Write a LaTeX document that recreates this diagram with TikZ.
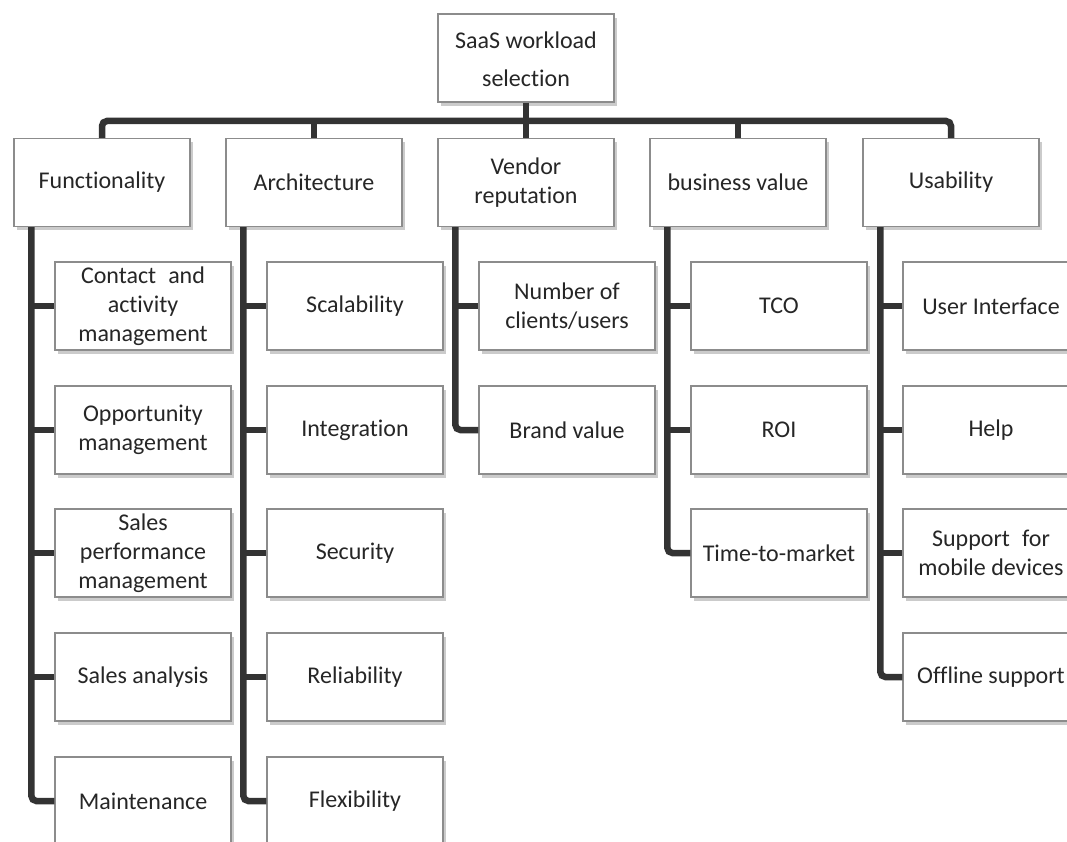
\documentclass[tikz,border=0pt]{standalone}
\usepackage{fontspec}
\setmainfont[Ligatures=NoCommon]{Carlito}
\usetikzlibrary{shadows}
\begin{document}
\begin{tikzpicture}[x=1pt,y=-1pt,
  box/.style={draw=black!45, line width=1.2pt, fill=white,
    minimum width=176pt, minimum height=88pt, inner sep=0pt, align=center,
    text=black!85, font=\fontsize{24}{29}\selectfont,
    drop shadow={shadow xshift=3pt, shadow yshift=-4pt, fill=black!45, opacity=0.45}},
  conn/.style={draw=black!80, line width=6.5pt, rounded corners=5pt},
  tick/.style={draw=black!80, line width=6.5pt}]
\clip (0,0) rectangle (1067,842);
\fill[white] (0,0) rectangle (1067,842);
% root and level 1
\node[box] (R) at (526,58) {\rule{0pt}{20pt}SaaS workload\\[9pt]selection};
\node[box] (F) at (102,182.5) {Functionality};
\node[box] (A) at (314,182.5) {Architecture};
\node[box] (V) at (526,182.5) {Vendor\\reputation};
\node[box] (B) at (738,182.5) {business value};
\node[box] (U) at (951,182.5) {Usability};
% Functionality children
\node[box] (F1) at (143,306) {Contact\enspace and\\activity\\management};
\node[box] (F2) at (143,430) {Opportunity\\management};
\node[box] (F3) at (143,553) {Sales\\performance\\management};
\node[box] (F4) at (143,677) {Sales analysis};
\node[box] (F5) at (143,801) {Maintenance};
% Architecture children
\node[box] (A1) at (355,306) {Scalability};
\node[box] (A2) at (355,430) {Integration};
\node[box] (A3) at (355,553) {Security};
\node[box] (A4) at (355,677) {Reliability};
\node[box] (A5) at (355,801) {Flexibility};
% Vendor children
\node[box] (V1) at (567,306) {Number of\\clients/users};
\node[box] (V2) at (567,430) {Brand value};
% business value children
\node[box] (B1) at (779,306) {TCO};
\node[box] (B2) at (779,430) {ROI};
\node[box] (B3) at (779,553) {Time-to-market};
% Usability children
\node[box] (U1) at (991,306) {User Interface};
\node[box] (U2) at (991,430) {Help};
\node[box] (U3) at (991,553) {Support\enspace for\\mobile devices};
\node[box] (U4) at (991,677) {Offline support};
% bus
\coordinate (bus) at (526,121);
\draw[conn] (F.north) |- (bus) -| (U.north);
\draw[tick] (R.south) -- (R.south |- bus);
\draw[tick] (A.north) -- (A.north |- bus);
\draw[tick] (V.north) -- (V.north |- bus);
\draw[tick] (B.north) -- (B.north |- bus);
% spines
\coordinate (sF) at ([xshift=18pt]F.south west);
\coordinate (sA) at ([xshift=18pt]A.south west);
\coordinate (sV) at ([xshift=18pt]V.south west);
\coordinate (sB) at ([xshift=18pt]B.south west);
\coordinate (sU) at ([xshift=18pt]U.south west);
\draw[conn] (sF) |- (F5.west);
\draw[conn] (sA) |- (A5.west);
\draw[conn] (sV) |- (V2.west);
\draw[conn] (sB) |- (B3.west);
\draw[conn] (sU) |- (U4.west);
\foreach \c in {F1,F2,F3,F4} \draw[tick] (sF |- \c.west) -- (\c.west);
\foreach \c in {A1,A2,A3,A4} \draw[tick] (sA |- \c.west) -- (\c.west);
\draw[tick] (sV |- V1.west) -- (V1.west);
\foreach \c in {B1,B2} \draw[tick] (sB |- \c.west) -- (\c.west);
\foreach \c in {U1,U2,U3} \draw[tick] (sU |- \c.west) -- (\c.west);
\end{tikzpicture}
\end{document}
